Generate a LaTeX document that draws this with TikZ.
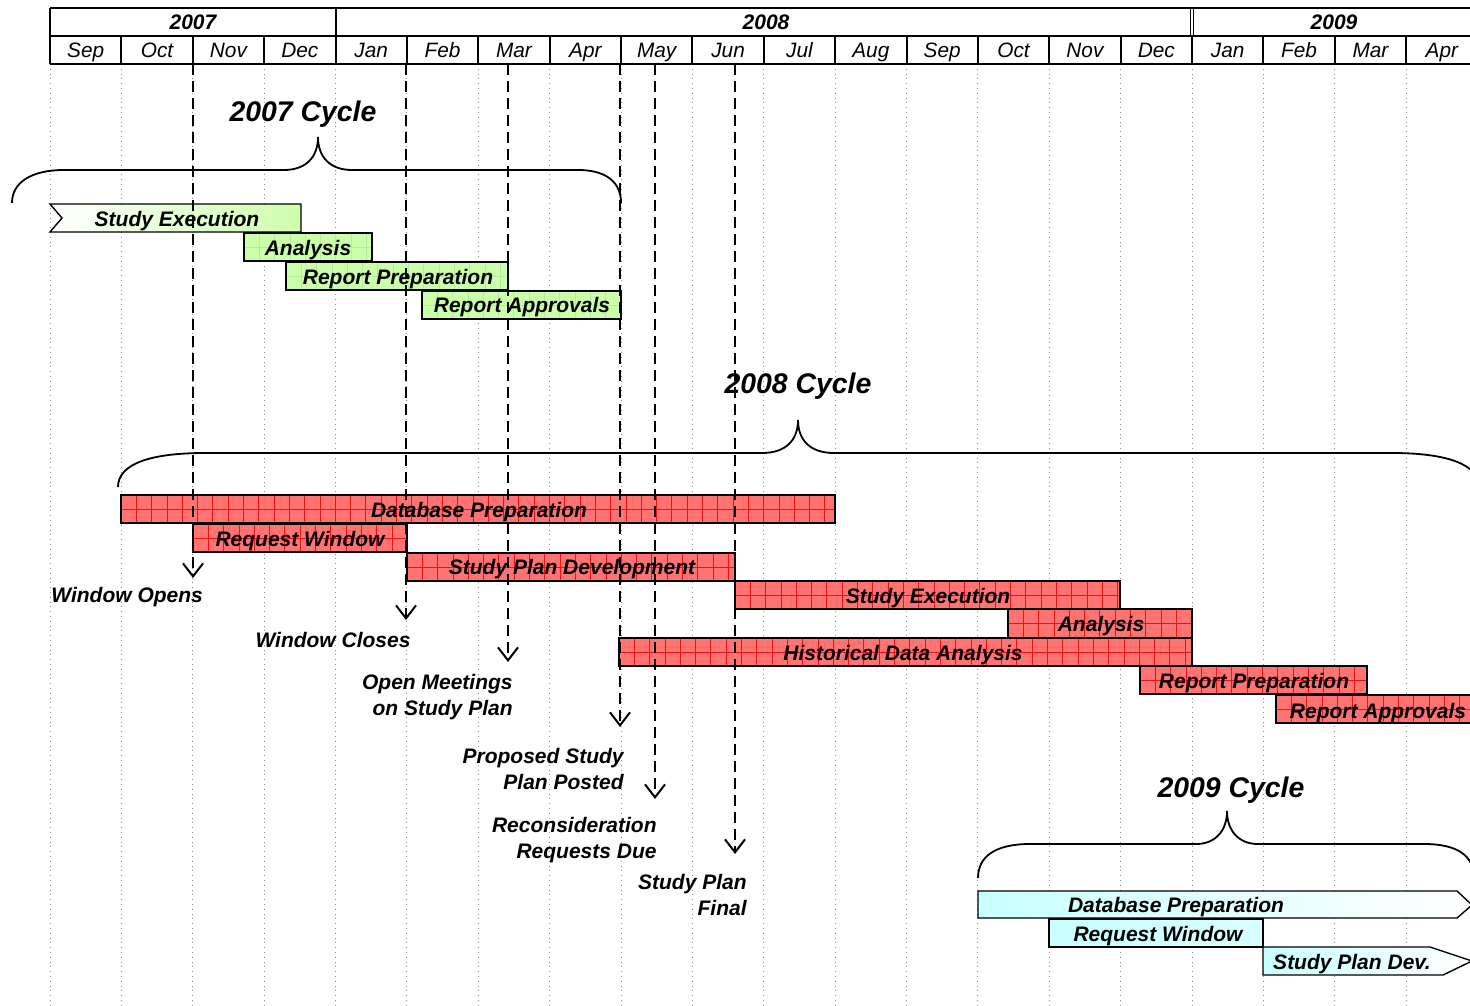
\documentclass[tikz,border=0pt]{standalone}
\usepackage{fontspec}
\setmainfont{Liberation Sans}
\usetikzlibrary{arrows.meta}
\definecolor{gfill}{RGB}{204,255,170}
\definecolor{ggrid}{RGB}{150,225,120}
\definecolor{rfill}{RGB}{255,115,115}
\definecolor{rgrid}{RGB}{235,20,20}
\definecolor{cfill}{RGB}{200,255,255}
\tikzset{
  lbl/.style={font=\fontsize{10.5}{13}\selectfont\bfseries\itshape, inner sep=0pt},
  bartext/.style={font=\fontsize{10.5}{13}\selectfont\bfseries\itshape, inner sep=0pt, anchor=base},
  montxt/.style={font=\fontsize{10.4}{12}\selectfont\itshape, inner sep=0pt, anchor=base},
  yrtxt/.style={font=\fontsize{10.5}{12}\selectfont\bfseries\itshape, inner sep=0pt, anchor=base},
  cyctxt/.style={font=\fontsize{14.2}{16}\selectfont\bfseries\itshape, inner sep=0pt, anchor=base},
  vgrid/.style={black!45, dotted, line width=0.4pt},
  marker/.style={line width=1.25pt, dash pattern=on 5.5pt off 3pt,
    -{Straight Barb[length=6.5pt,width=10pt,line width=1pt]}},
  bracestyle/.style={line width=0.9pt},
  barline/.style={draw=black, line width=0.7pt},
  hdr/.style={line width=1pt},
}
% grid bar: x1,y1,x2,y2,fill,gridcolor
\newcommand{\gridbar}[6]{%
  \begin{scope}
    \clip (#1,#2) rectangle (#3,#4);
    \fill[#5] (#1,#2) rectangle (#3,#4);
    \foreach \n in {1,...,50} {
      \draw[#6, line width=0.35pt] ({#1+15.3*\n},#2) -- ({#1+15.3*\n},#4);
    }
    \draw[#6, line width=0.35pt] (#1,{(#2+#4)/2}) -- (#3,{(#2+#4)/2});
  \end{scope}
  \draw[barline] (#1,#2) rectangle (#3,#4);
}
\begin{document}
\begin{tikzpicture}[x=0.5pt,y=-0.5pt]
\useasboundingbox (0,0) rectangle (1470,1005);
\clip (0,0) rectangle (1470,1005);
\fill[white] (0,0) rectangle (1470,1005);

% dotted month grid
\foreach \i in {0,...,19} {
  \draw[vgrid] ({50+71.375*\i},64) -- ({50+71.375*\i},1005);
}

% header
\draw[hdr] (50,8) -- (1472,8);
\draw[hdr] (50,36) -- (1472,36);
\draw[hdr] (50,64) -- (1472,64);
\draw[hdr] (50,8) -- (50,64);
\draw[hdr] (336,8) -- (336,36);
\draw[line width=0.7pt] (1190.5,8) -- (1190.5,36);
\draw[line width=0.7pt] (1193.5,8) -- (1193.5,36);
\foreach \i in {1,...,19} {
  \draw[hdr] ({50+71.375*\i},36) -- ({50+71.375*\i},64);
}
\draw[line width=1.4pt] (1192,36) -- (1192,64);
\foreach \m [count=\i from 0] in {Sep,Oct,Nov,Dec,Jan,Feb,Mar,Apr,May,Jun,Jul,Aug,Sep,Oct,Nov,Dec,Jan,Feb,Mar,Apr} {
  \node[montxt] (mon\i) at ({50+71.375*(\i+0.5)},58) {\m};
}
\node[yrtxt] (y2007) at (193,29.5) {2007};
\node[yrtxt] (y2008) at (766,29.5) {2008};
\node[yrtxt] (y2009) at (1334,29.5) {2009};

% braces
\draw[bracestyle] (12,203) .. controls (12,182) and (32,170) .. (64,170) -- (284,170)
  .. controls (306,170) and (318,157) .. (318,137)
  .. controls (318,157) and (330,170) .. (352,170) -- (578,170)
  .. controls (606,170) and (621,182) .. (621,203);
\draw[bracestyle] (118,487) .. controls (118,464) and (150,453) .. (205,453) -- (762,453)
  .. controls (786,453) and (798,440) .. (798,420)
  .. controls (798,440) and (810,453) .. (834,453) -- (1392,453)
  .. controls (1446,453) and (1479,464) .. (1479,487);
\draw[bracestyle] (978,878) .. controls (978,856) and (996,844) .. (1030,844) -- (1196,844)
  .. controls (1216,844) and (1227,830) .. (1227,811)
  .. controls (1227,830) and (1238,844) .. (1258,844) -- (1424,844)
  .. controls (1458,844) and (1474,856) .. (1474,878);

% cycle titles
\node[cyctxt] (c2007) at (303,122) {2007 Cycle};
\node[cyctxt] (c2008) at (798,393) {2008 Cycle};
\node[cyctxt] (c2009) at (1231,797) {2009 Cycle};

% ---- 2007 (green) bars
\begin{scope}
  \clip (50,204) -- (301,204) -- (301,232) -- (50,232) -- (62,218) -- cycle;
  \shade[left color=white, right color=gfill] (50,204) rectangle (301,232);
\end{scope}
\draw[barline] (50,204) -- (301,204) -- (301,232) -- (50,232) -- (62,218) -- cycle;
\gridbar{244}{233}{372}{261}{gfill}{ggrid!70}
\gridbar{286}{262}{508}{290}{gfill}{ggrid!70}
\gridbar{422}{291}{621}{319}{gfill}{ggrid!70}

% ---- 2008 (red) bars
\gridbar{121}{495}{835}{523}{rfill}{rgrid}
\gridbar{193}{524}{407}{552}{rfill}{rgrid}
\gridbar{407}{553}{735}{581}{rfill}{rgrid}
\gridbar{735}{581}{1120}{609}{rfill}{rgrid}
\gridbar{1008}{609}{1192}{638}{rfill}{rgrid}
\gridbar{619}{638}{1192}{666}{rfill}{rgrid}
\gridbar{1140}{666}{1367}{694}{rfill}{rgrid}
\gridbar{1276}{695}{1490}{723}{rfill}{rgrid}

% ---- 2009 (cyan) bars
\shade[left color=cfill, right color=white, draw=black, line width=0.7pt]
  (978,891) -- (1457,891) -- (1472,905) -- (1457,918) -- (978,918) -- cycle;
\shade[left color=cfill, right color=cfill!70, draw=black, line width=0.7pt]
  (1049,919) rectangle (1263,947);
\shade[left color=cfill, right color=white, draw=black, line width=0.7pt]
  (1263,947) -- (1430,947) -- (1472,961) -- (1443,975) -- (1263,975) -- cycle;

% ---- milestone markers
\coordinate (m1a) at (193,64);  \coordinate (m1b) at (193,578);
\coordinate (m2a) at (406,64);  \coordinate (m2b) at (406,620);
\coordinate (m3a) at (508,64);  \coordinate (m3b) at (508,662);
\coordinate (m4a) at (620,64);  \coordinate (m4b) at (620,727);
\coordinate (m5a) at (655,64);  \coordinate (m5b) at (655,799);
\coordinate (m6a) at (735,64);  \coordinate (m6b) at (735,854);
\foreach \k in {1,...,6} { \draw[marker] (m\k a) -- (m\k b); }

% ---- bar texts (baseline = visual centre + 7.5)
\node[bartext] (g1) at (177,226.5) {Study Execution};
\node[bartext] (g2) at (308,255.5) {Analysis};
\node[bartext] (g3) at (398,284.5) {Report Preparation};
\node[bartext] (g4) at (522,312.5) {Report Approvals};

\node[bartext] (r1) at (479,517.5) {Database Preparation};
\node[bartext] (r2) at (300,546.5) {Request Window};
\node[bartext] (r3) at (572,574.5) {Study Plan Development};
\node[bartext] (r4) at (928,603.5) {Study Execution};
\node[bartext] (r5) at (1101,631.5) {Analysis};
\node[bartext] (r6) at (903,660.5) {Historical Data Analysis};
\node[bartext] (r7) at (1254,688.5) {Report Preparation};
\node[bartext] (r8) at (1378,718.5) {Report Approvals};

\node[bartext] (b1) at (1176,912.5) {Database Preparation};
\node[bartext] (b2) at (1158,941.5) {Request Window};
\node[bartext] (b3) at (1352,969.5) {Study Plan Dev.};

% ---- milestone labels
\node[lbl, anchor=west] (l1) at (51,597) {Window Opens};
\node[lbl] (l2) at (333,640) {Window Closes};
\node[lbl, align=right, anchor=east] (l3) at (513,697) {Open Meetings\\on Study Plan};
\node[lbl, align=right, anchor=east] (l4) at (624,769) {Proposed Study\\Plan Posted};
\node[lbl, align=right, anchor=east] (l5) at (657,840) {Reconsideration\\Requests Due};
\node[lbl, align=right, anchor=east] (l6) at (747,895) {Study Plan\\Final};
\end{tikzpicture}
\end{document}
